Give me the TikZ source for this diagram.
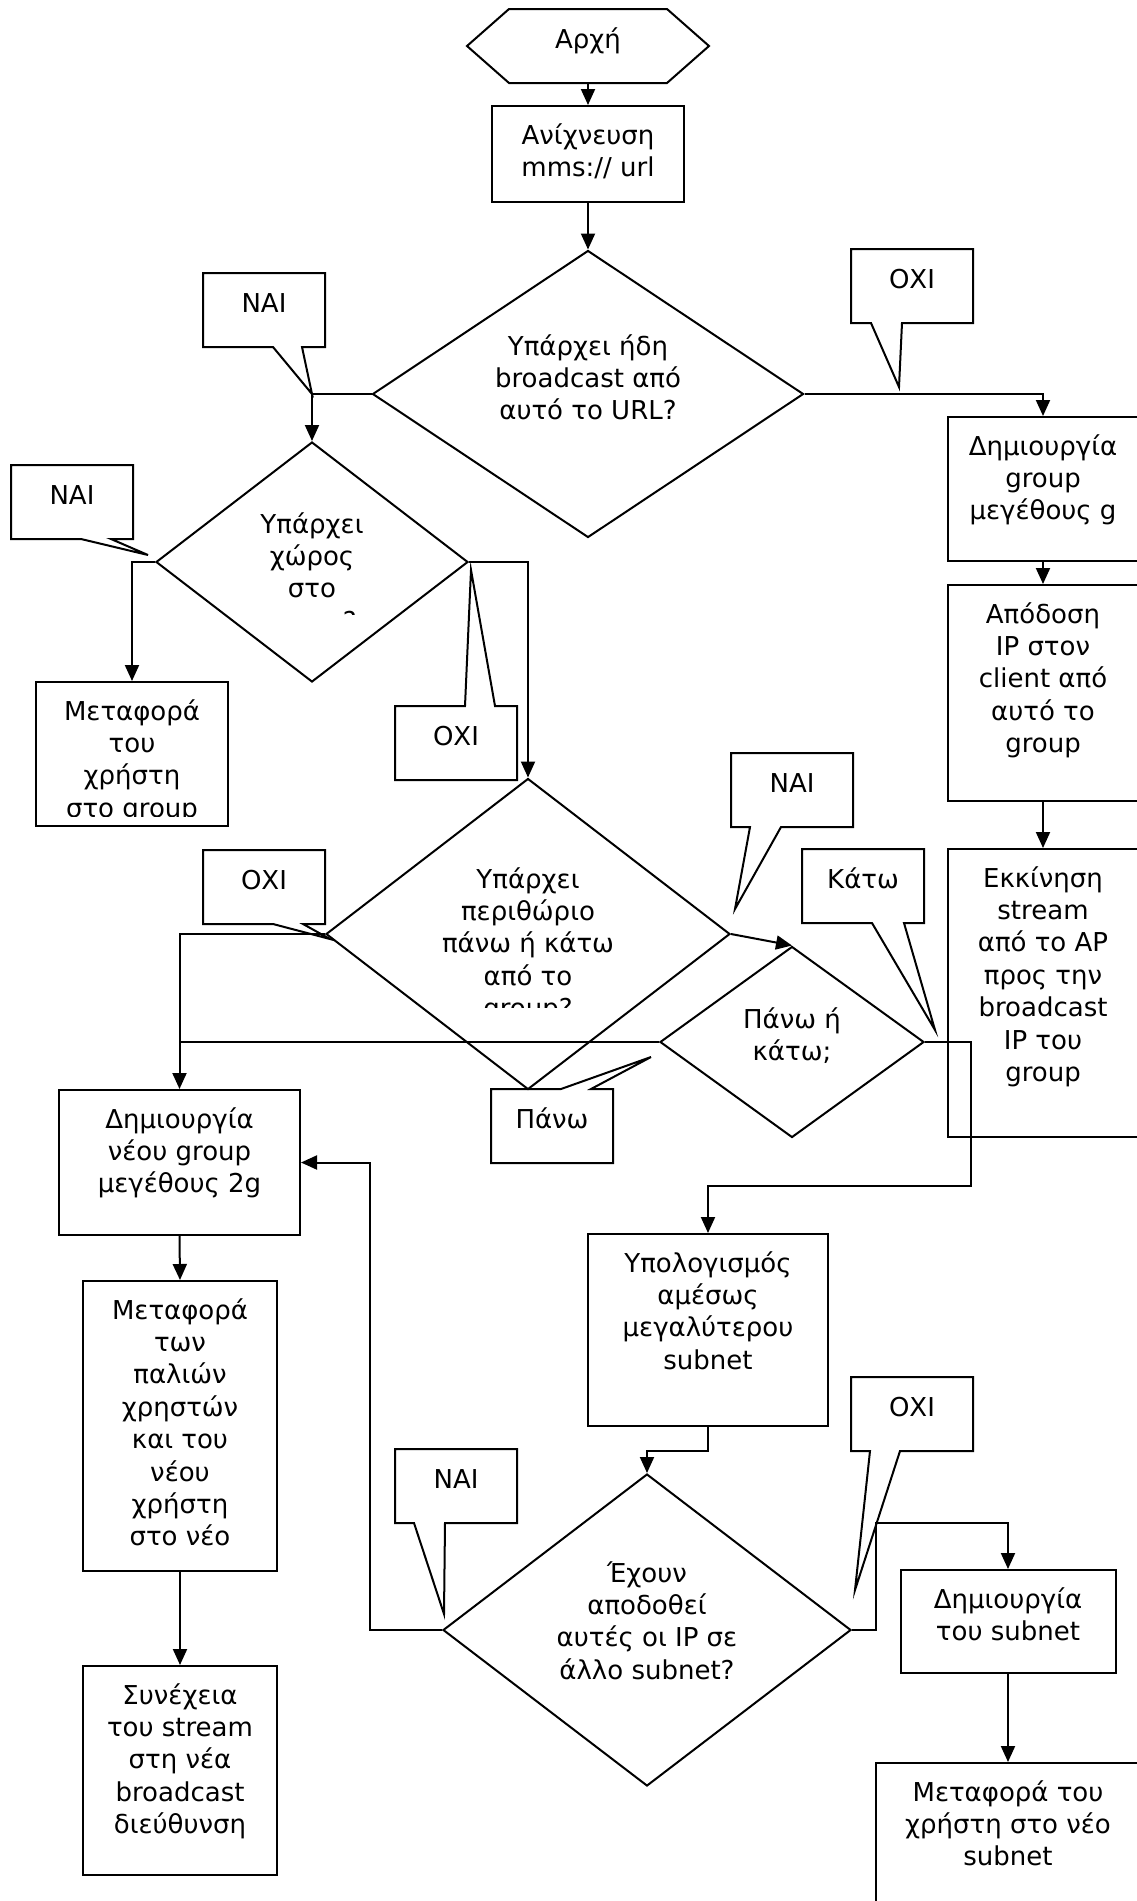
\documentclass[tikz,border=0pt]{standalone}
\usepackage{fontspec}
\setmainfont{DejaVu Sans}
\usetikzlibrary{arrows.meta, shapes.geometric}
\newcommand{\bx}[3]{\parbox[c][#2pt][t]{#1pt}{\centering\rule{0pt}{38pt}#3}}
\newcommand{\dtext}[1]{\parbox[t]{380pt}{\centering #1}}

\begin{document}
\begin{tikzpicture}[
    x=1pt, y=-1pt, line width=2pt,
    every node/.style={font=\fontsize{26}{32.4}\selectfont, inner sep=0pt},
    proc/.style={rectangle, draw},
    dec/.style={diamond, draw},
    flow/.style={-{Triangle[length=16pt, width=14pt]}}
]
\useasboundingbox (0,0) rectangle (1137,1901);

% Start
\node (start) at (588,46) {\bx{240}{72}{Αρχή}};
\draw (start.west) -- ([xshift=42pt]start.north west) -- ([xshift=-42pt]start.north east)
    -- (start.east) -- ([xshift=-42pt]start.south east) -- ([xshift=42pt]start.south west) -- cycle;

% Main column
\node[proc] (scan) at (588,154) {\bx{192}{96}{Ανίχνευση\\mms:// url}};
\node[dec, minimum width=431pt, minimum height=287pt] (q1) at (588,394) {};
\node[anchor=base] (q1t) at (588,355) {\dtext{Υπάρχει ήδη\\broadcast από\\αυτό το URL?}};

% Left branch
\node[dec, minimum width=312pt, minimum height=240pt] (q2) at (312,562) {};
\begin{scope}
    \clip (150,440) rectangle (480,614);
    \node[anchor=base] (q2t) at (312,533) {\dtext{Υπάρχει\\χώρος\\στο\\group?}};
\end{scope}
\node[proc] (move) at (132,754) {\bx{192}{144}{}};
\begin{scope}
    \clip (move.north west) rectangle ([yshift=11pt]move.south east);
    \node (movet) at (132,754) {\bx{192}{144}{Μεταφορά\\του\\χρήστη\\στο group}};
\end{scope}

\node[dec, minimum width=404pt, minimum height=311pt] (q3) at (528,934) {};
\begin{scope}
    \clip (320,770) rectangle (740,1007);
    \node[anchor=base] (q3t) at (528,888) {\dtext{Υπάρχει\\περιθώριο\\πάνω ή κάτω\\από το\\group?}};
\end{scope}
\node[dec, minimum width=264pt, minimum height=191pt] (q4) at (792,1042) {};
\node[anchor=base] (q4t) at (792,1028) {\dtext{Πάνω ή\\κάτω;}};

\node[proc] (newg) at (179.5,1162.5) {\bx{241}{145}{Δημιουργία\\νέου group\\μεγέθους 2g}};
\node[proc] (moveall) at (180,1426) {\bx{194}{290}{Μεταφορά\\των\\παλιών\\χρηστών\\και του\\νέου\\χρήστη\\στο νέο}};
\node[proc] (cont) at (180,1770.5) {\bx{194}{209}{Συνέχεια\\του stream\\στη νέα\\broadcast\\διεύθυνση}};

% Right column
\node[proc] (mkgroup) at (1043,489) {\bx{190}{144}{Δημιουργία\\group\\μεγέθους g}};
\node[proc] (assign) at (1043,693) {\bx{190}{216}{Απόδοση\\IP στον\\client από\\αυτό το\\group}};
\node[proc] (stream) at (1043,993) {\bx{190}{288}{Εκκίνηση\\stream\\από το AP\\προς την\\broadcast\\IP του\\group}};

% Subnet part
\node[proc] (calc) at (708,1330) {\bx{240}{192}{Υπολογισμός\\αμέσως\\μεγαλύτερου\\subnet}};
\node[dec, minimum width=408pt, minimum height=312pt] (q5) at (647,1630) {};
\node[anchor=base] (q5t) at (647,1582) {\dtext{Έχουν\\αποδοθεί\\αυτές οι IP σε\\άλλο subnet?}};
\node[proc] (mksub) at (1008,1621.5) {\bx{215}{103}{Δημιουργία\\του subnet}};
\node[proc] (movesub) at (1008,1836) {\bx{264}{146}{Μεταφορά του\\χρήστη στο νέο\\subnet}};

\coordinate (j1) at (971,1186);
\coordinate (j3) at (1008,1523);

% Flows
\draw[flow] (start.south) -- (scan.north);
\draw[flow] (scan.south) -- (q1.north);
\draw[flow] (q1.west) -| (q2.north);
\draw[flow] (q1.east) -| (mkgroup.north);
\draw[flow] (mkgroup.south) -- (assign.north);
\draw[flow] (assign.south) -- (stream.north);
\draw[flow] (q2.west) -| (move.north);
\draw[flow] (q2.east) -| (q3.north);
\draw[flow] (q3.west) -| (newg.north);
\draw (q4.west) -- (q4.west -| newg.north);
\draw[flow] (q3.east) -- (q4.north);
\draw[flow] (q4.east) -| (j1) -| (calc.north);
\draw[flow] (calc.south) -- ++(0,24) -| (q5.north);
\draw[flow] (q5.west) -- ++(-72,0) |- (newg.east);
\draw[flow] (q5.east) -- ++(24,0) |- (j3) -- (mksub.north);
\draw[flow] (mksub.south) -- (movesub.north);
\draw[flow] (newg.south) -- (moveall.north);
\draw[flow] (moveall.south) -- (cont.north);

% Callouts
\node (nai1) at (264,310) {\bx{120}{72}{ΝΑΙ}};
\draw (nai1.south west) -- (nai1.north west) -- (nai1.north east) -- (nai1.south east)
    -- ([xshift=99pt]nai1.south west) -- (312,394) -- ([xshift=70pt]nai1.south west) -- cycle;

\node (oxi1) at (912,286) {\bx{120}{72}{ΟΧΙ}};
\draw (oxi1.south west) -- (oxi1.north west) -- (oxi1.north east) -- (oxi1.south east)
    -- ([xshift=51pt]oxi1.south west) -- (899,387) -- ([xshift=20pt]oxi1.south west) -- cycle;

\node (nai2) at (72,502) {\bx{120}{72}{ΝΑΙ}};
\draw (nai2.south west) -- (nai2.north west) -- (nai2.north east) -- (nai2.south east)
    -- ([xshift=100pt]nai2.south west) -- (148,555) -- ([xshift=70pt]nai2.south west) -- cycle;

\node (oxi2) at (456,743) {\bx{120}{72}{ΟΧΙ}};
\draw (oxi2.north west) -- ([xshift=70pt]oxi2.north west) -- (471,570) -- ([xshift=100pt]oxi2.north west)
    -- (oxi2.north east) -- (oxi2.south east) -- (oxi2.south west) -- cycle;

\node (nai3) at (792,790) {\bx{120}{72}{ΝΑΙ}};
\draw (nai3.south west) -- (nai3.north west) -- (nai3.north east) -- (nai3.south east)
    -- ([xshift=50pt]nai3.south west) -- (735,909) -- ([xshift=19pt]nai3.south west) -- cycle;

\node (oxi3) at (264,887) {\bx{120}{72}{ΟΧΙ}};
\draw (oxi3.south west) -- (oxi3.north west) -- (oxi3.north east) -- (oxi3.south east)
    -- ([xshift=100pt]oxi3.south west) -- (330,939) -- ([xshift=70pt]oxi3.south west) -- cycle;

\node (down) at (863,886) {\bx{120}{72}{Κάτω}};
\draw (down.south west) -- (down.north west) -- (down.north east) -- (down.south east)
    -- ([xshift=102pt]down.south west) -- (935,1030) -- ([xshift=70pt]down.south west) -- cycle;

\node (up) at (552,1126) {\bx{120}{72}{Πάνω}};
\draw (up.north west) -- ([xshift=70pt]up.north west) -- (651,1057) -- ([xshift=100pt]up.north west)
    -- (up.north east) -- (up.south east) -- (up.south west) -- cycle;

\node (oxi4) at (912,1414) {\bx{120}{72}{ΟΧΙ}};
\draw (oxi4.south west) -- (oxi4.north west) -- (oxi4.north east) -- (oxi4.south east)
    -- ([xshift=49pt]oxi4.south west) -- (855,1590) -- ([xshift=19pt]oxi4.south west) -- cycle;

\node (nai4) at (456,1486) {\bx{120}{72}{ΝΑΙ}};
\draw (nai4.south west) -- (nai4.north west) -- (nai4.north east) -- (nai4.south east)
    -- ([xshift=50pt]nai4.south west) -- (444,1614) -- ([xshift=19pt]nai4.south west) -- cycle;
\end{tikzpicture}
\end{document}
